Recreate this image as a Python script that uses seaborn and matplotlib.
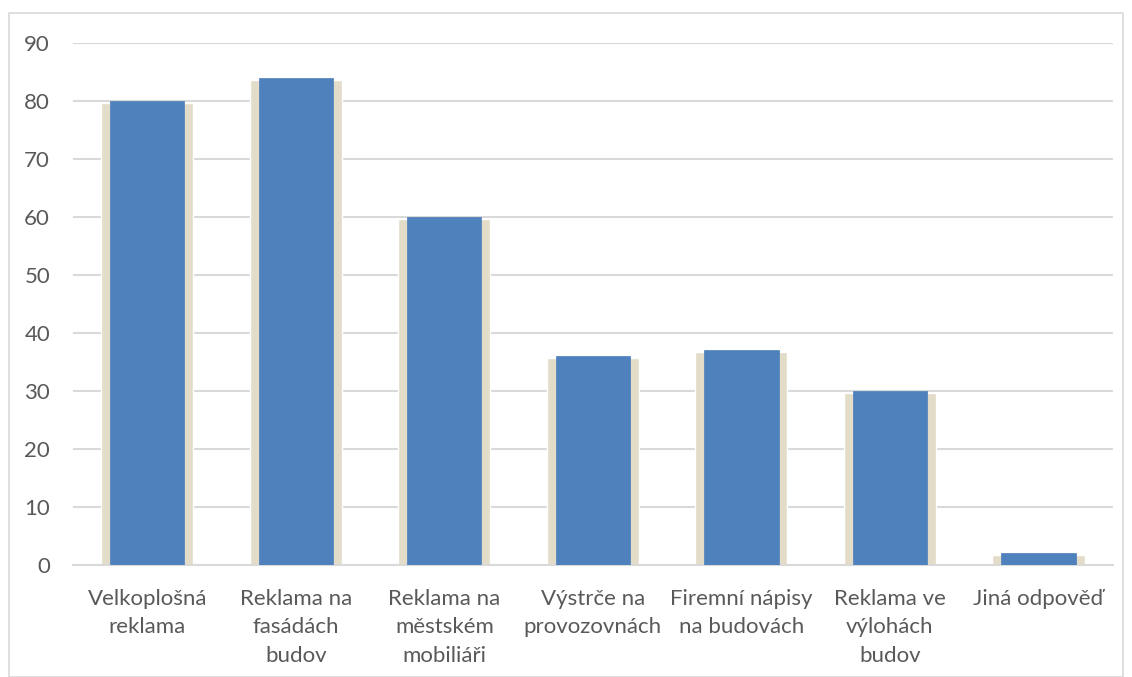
import matplotlib
matplotlib.use("Agg")
import matplotlib.pyplot as plt
import seaborn as sns
import pandas as pd
from matplotlib.patches import Rectangle

categories = ["Velkoplošná\nreklama", "Reklama na\nfasádách\nbudov", "Reklama na\nměstském\nmobiliáři",
              "Výstrče na\nprovozovnách", "Firemní nápisy\nna budovách", "Reklama ve\nvýlohách\nbudov",
              "Jiná odpověď"]
values = [80, 84, 60, 36, 37, 30, 2]
yticks = [0, 10, 20, 30, 40, 50, 60, 70, 80, 90]

sns.set_theme(style="white")
plt.rcParams['font.family'] = ['Lato', 'DejaVu Sans']

df = pd.DataFrame({"cat": categories, "val": values})

fig = plt.figure(figsize=(11.32, 6.77), dpi=100)
ax = fig.add_axes([0.0645, 0.1654, 0.9185, 0.7711])

# shadow bars
sns.barplot(data=df, x="cat", y="val", ax=ax, color="#e2dcc8", width=0.62,
            saturation=1, zorder=2)
n_shadow = len(ax.patches)
for p in ax.patches[:n_shadow]:
    p.set_height(p.get_height() - 0.35)
# main bars
sns.barplot(data=df, x="cat", y="val", ax=ax, color="#4f81bd", width=0.5,
            saturation=1, zorder=3)
for p in ax.patches[n_shadow:]:
    p.set_edgecolor("#4a7ebb")
    p.set_linewidth(0.5)

ax.set_ylim(0, 90)
ax.set_xlim(-0.5, len(categories) - 0.5)
ax.set_yticks(yticks)
ax.set_xlabel("")
ax.set_ylabel("")
ax.grid(axis="y", color="#d9d9d9", linewidth=1.5, zorder=1)
ax.set_axisbelow(True)
for s in ["top", "right", "left"]:
    ax.spines[s].set_visible(False)
ax.spines["bottom"].set_color("#d9d9d9")
ax.spines["bottom"].set_linewidth(1.5)
ax.tick_params(axis="both", length=0, colors="#595959", labelsize=16)
ax.tick_params(axis="y", pad=16.5)
ax.tick_params(axis="x", pad=17)
for t in ax.get_xticklabels():
    t.set_linespacing(1.55)
    t.set_va("top")

fig.patches.append(Rectangle((0.008, 0.0), 0.984, 0.981, transform=fig.transFigure,
                             fill=False, edgecolor="#d9d9d9", linewidth=1.2))

fig.savefig("out.png", dpi=100, facecolor="white")
